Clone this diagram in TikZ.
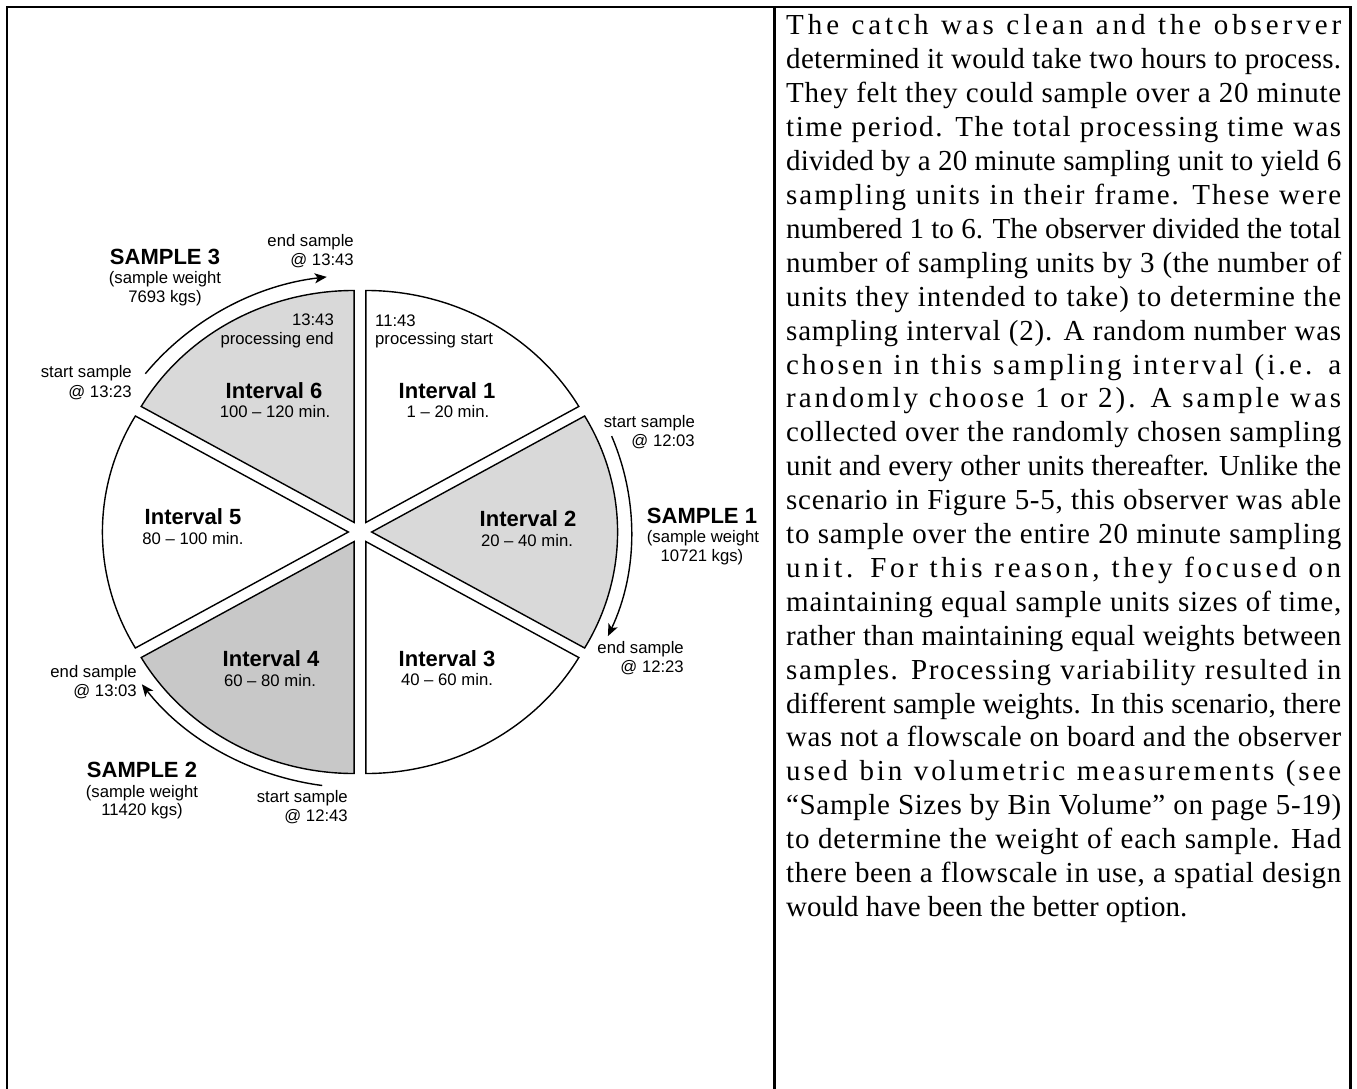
\documentclass[tikz,border=0pt]{standalone}
\usepackage{fontspec}
\setmainfont{Liberation Serif}
\newfontfamily\diag{Liberation Sans}
\usetikzlibrary{arrows.meta}

\definecolor{shadeA}{RGB}{217,217,217}
\definecolor{shadeB}{RGB}{200,200,200}

% --- justified line with automatic letter spacing -------------------
\newsavebox\jbox
\newlength\jnat
\newcount\jcnt
\def\jstop{\jstop}
\def\jcountloop#1{\ifx#1\jstop\else\advance\jcnt by 1 \expandafter\jcountloop\fi}
\newcommand\fitline[1]{%
  \sbox\jbox{#1}\setlength\jnat{\wd\jbox}%
  \jcnt=0 \jcountloop#1\jstop
  \pgfmathsetmacro\jls{max(0,0.97*100*(555-\jnat)/(\the\jcnt*29))}%
  {\edef\jtmp{\noexpand\addfontfeature{LetterSpace=\jls}}\jtmp
   \makebox[555pt][s]{#1}}}

\tikzset{
  frame/.style={line width=2.4pt},
  sector/.style={draw=black, line width=1.4pt, line join=miter},
  samplearrow/.style={line width=1.4pt, -{Stealth[length=12pt,width=10pt,inset=3pt]}},
  lbl/.style={font=\diag\fontsize{16.7}{19.3}\selectfont, inner sep=0pt},
  ttl/.style={font=\diag\bfseries\fontsize{22}{26}\selectfont, inner sep=0pt},
  bodytext/.style={font=\fontsize{29}{33.9}\selectfont, inner sep=0pt, anchor=base west}
}

\newcommand\sector[3]{%
  \filldraw[sector, fill=#1] ({(#2+#3)/2}:11) -- ++(#2:232)
    arc[start angle=#2, end angle=#3, radius=232] -- cycle;}
\newcommand\tline[2]{%
  \node[bodytext] (t#1) at (786,{35+(#1-1)*33.9}) {\fitline{#2}};}

\begin{document}
\begin{tikzpicture}[x=1pt, y=-1pt]
\path[use as bounding box] (0,0) rectangle (1357,1089);

% table frame
\draw[frame] (7,1089) -- (7,7) -- (1350.5,7) -- (1350.5,1089);
\draw[frame] (774.5,7) -- (774.5,1089);

% exploded pie of six sampling intervals
\begin{scope}[shift={(360,532)}, xscale=1.06, yscale=-1]
  \sector{white}{30}{90}
  \sector{shadeA}{-30}{30}
  \sector{white}{-90}{-30}
  \sector{shadeB}{210}{270}
  \sector{white}{150}{210}
  \sector{shadeA}{90}{150}
  % sampling periods
  \coordinate (s1start) at (22:256);
  \coordinate (s2start) at (-98:256);
  \coordinate (s3start) at (142:257);
  \draw[samplearrow] (s1start) arc[start angle=22, end angle=-24, radius=256];
  \draw[samplearrow] (s2start) arc[start angle=-98, end angle=-143.5, radius=256];
  \draw[samplearrow] (s3start) arc[start angle=142, end angle=97, radius=257];
\end{scope}

% interval labels
\node[ttl, anchor=base] (i6) at (274,398) {Interval 6};
\node[lbl, anchor=base] (i6r) at (275,417) {100 – 120 min.};
\node[ttl, anchor=base] (i1) at (447,398) {Interval 1};
\node[lbl, anchor=base] (i1r) at (448,417) {1 – 20 min.};
\node[ttl, anchor=base] (i5) at (193,524) {Interval 5};
\node[lbl, anchor=base] (i5r) at (193,544) {80 – 100 min.};
\node[ttl, anchor=base] (i2) at (528,526) {Interval 2};
\node[lbl, anchor=base] (i2r) at (527,546) {20 – 40 min.};
\node[ttl, anchor=base] (i4) at (271,666) {Interval 4};
\node[lbl, anchor=base] (i4r) at (270,686) {60 – 80 min.};
\node[ttl, anchor=base] (i3) at (447,666) {Interval 3};
\node[lbl, anchor=base] (i3r) at (447,685) {40 – 60 min.};

% processing start / end
\node[lbl, anchor=base west] (ps1) at (375,326) {11:43};
\node[lbl, anchor=base west] (ps2) at (375,344) {processing start};
\node[lbl, anchor=base east] (pe1) at (334,325) {13:43};
\node[lbl, anchor=base east] (pe2) at (334,344) {processing end};

% sample 1
\node[ttl, anchor=base] (S1) at (702,523) {SAMPLE 1};
\node[lbl, anchor=base] (S1w) at (703,542) {(sample weight};
\node[lbl, anchor=base] (S1k) at (702,561) {10721 kgs)};
\node[lbl, anchor=base east] (S1a) at (695,427) {start sample};
\node[lbl, anchor=base east] (S1b) at (695,446) {@ 12:03};
\node[lbl, anchor=base east] (S1c) at (684,653) {end sample};
\node[lbl, anchor=base east] (S1d) at (684,672) {@ 12:23};

% sample 2
\node[ttl, anchor=base] (S2) at (142,777) {SAMPLE 2};
\node[lbl, anchor=base] (S2w) at (142,797) {(sample weight};
\node[lbl, anchor=base] (S2k) at (142,815) {11420 kgs)};
\node[lbl, anchor=base east] (S2a) at (348,802) {start sample};
\node[lbl, anchor=base east] (S2b) at (348,821) {@ 12:43};
\node[lbl, anchor=base east] (S2c) at (137,677) {end sample};
\node[lbl, anchor=base east] (S2d) at (137,696) {@ 13:03};

% sample 3
\node[ttl, anchor=base] (S3) at (165,264) {SAMPLE 3};
\node[lbl, anchor=base] (S3w) at (165,283) {(sample weight};
\node[lbl, anchor=base] (S3k) at (165,302) {7693 kgs)};
\node[lbl, anchor=base east] (S3a) at (132,377) {start sample};
\node[lbl, anchor=base east] (S3b) at (132,397) {@ 13:23};
\node[lbl, anchor=base east] (S3c) at (354,246) {end sample};
\node[lbl, anchor=base east] (S3d) at (354,265) {@ 13:43};

% description
\tline{1}{The catch was clean and the observer}
\tline{2}{determined it would take two hours to process.}
\tline{3}{They felt they could sample over a 20 minute}
\tline{4}{time period. The total processing time was}
\tline{5}{divided by a 20 minute sampling unit to yield 6}
\tline{6}{sampling units in their frame. These were}
\tline{7}{numbered 1 to 6. The observer divided the total}
\tline{8}{number of sampling units by 3 (the number of}
\tline{9}{units they intended to take) to determine the}
\tline{10}{sampling interval (2). A random number was}
\tline{11}{chosen in this sampling interval (i.e. a}
\tline{12}{randomly choose 1 or 2). A sample was}
\tline{13}{collected over the randomly chosen sampling}
\tline{14}{unit and every other units thereafter. Unlike the}
\tline{15}{scenario in Figure 5-5, this observer was able}
\tline{16}{to sample over the entire 20 minute sampling}
\tline{17}{unit. For this reason, they focused on}
\tline{18}{maintaining equal sample units sizes of time,}
\tline{19}{rather than maintaining equal weights between}
\tline{20}{samples. Processing variability resulted in}
\tline{21}{different sample weights. In this scenario, there}
\tline{22}{was not a flowscale on board and the observer}
\tline{23}{used bin volumetric measurements (see}
\tline{24}{“Sample Sizes by Bin Volume” on page 5-19)}
\tline{25}{to determine the weight of each sample. Had}
\tline{26}{there been a flowscale in use, a spatial design}
\node[bodytext] (t27) at (786,{35+26*33.9}) {would have been the better option.};
\end{tikzpicture}
\end{document}
